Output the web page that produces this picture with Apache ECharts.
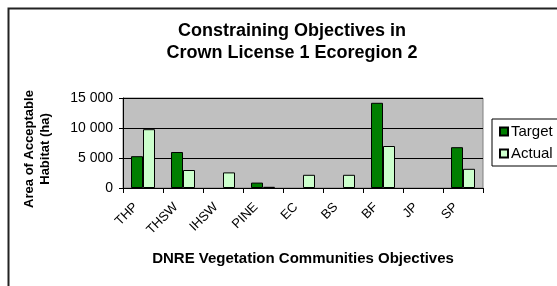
<!DOCTYPE html>
<html>
<head>
<meta charset="utf-8">
<script src="https://cdn.jsdelivr.net/npm/echarts@6/dist/echarts.min.js"></script>
<style>
  html, body { margin: 0; padding: 0; background: #fff; }
  #chartdiv { width: 557px; height: 286px; }
</style>
</head>
<body>
<div id="chartdiv"></div>
<script>
var categories = ['THP', 'THSW', 'IHSW', 'PINE', 'EC', 'BS', 'BF', 'JP', 'SP'];
var targetValues = [5300, 6000, 0, 900, 0, 0, 14200, 0, 6800];
var actualValues = [9800, 3000, 2600, 200, 2200, 2200, 7000, 0, 3200];
var seriesNames = ['Target', 'Actual'];

function fmt(v) {
  // thousands with a space, like the source
  return String(v).replace(/\B(?=(\d{3})+(?!\d))/g, ' ');
}
// zero values are not drawn at all in the source
function noZero(arr) {
  return arr.map(function (v) { return v === 0 ? '-' : v; });
}

var myChart = echarts.init(document.getElementById('chartdiv'));
var option = {
  animation: false,
  backgroundColor: '#fff',
  title: {
    text: 'Constraining Objectives in\nCrown License 1 Ecoregion 2',
    left: 287,
    textAlign: 'center',
    top: 15,
    textStyle: {
      fontFamily: 'Liberation Sans',
      fontSize: 18,
      fontWeight: 'bold',
      lineHeight: 22,
      color: '#000'
    }
  },
  legend: {
    data: seriesNames,
    orient: 'vertical',
    left: 492,
    top: 119,
    icon: 'rect',
    itemWidth: 8,
    itemHeight: 8,
    itemGap: 7,
    padding: [5, 20, 5, 7],
    borderColor: '#000',
    borderWidth: 1,
    textStyle: { fontFamily: 'Liberation Sans', fontSize: 15, color: '#000', padding: [0, 0, 0, -2] }
  },
  grid: {
    left: 123,
    top: 98,
    width: 360,
    height: 90,
    show: true,
    backgroundColor: '#c0c0c0',
    borderColor: '#808080',
    borderWidth: 1
  },
  xAxis: {
    type: 'category',
    data: categories,
    name: 'DNRE Vegetation Communities Objectives',
    nameLocation: 'middle',
    nameGap: 63,
    nameTextStyle: { fontFamily: 'Liberation Sans', fontSize: 15, fontWeight: 'bold', color: '#000' },
    axisLine: { lineStyle: { color: '#000' } },
    axisTick: { show: true, length: 5, lineStyle: { color: '#000' } },
    axisLabel: {
      rotate: 45,
      interval: 0,
      margin: 10,
      padding: [0, 10, 0, 0],
      fontFamily: 'Liberation Sans',
      fontSize: 13,
      color: '#000'
    }
  },
  yAxis: {
    type: 'value',
    min: 0,
    max: 15000,
    interval: 5000,
    name: 'Area of Acceptable\nHabitat (ha)',
    nameLocation: 'middle',
    nameGap: 70,
    nameTextStyle: {
      fontFamily: 'Liberation Sans', fontSize: 13, fontWeight: 'bold', color: '#000',
      lineHeight: 16, padding: [0, 12, 0, 0]
    },
    axisLine: { show: true, lineStyle: { color: '#000' } },
    axisTick: { show: true, length: 4, lineStyle: { color: '#000' } },
    splitLine: { show: true, lineStyle: { color: '#000', width: 1 } },
    axisLabel: {
      formatter: fmt,
      margin: 10,
      fontFamily: 'Liberation Sans',
      fontSize: 14,
      color: '#000'
    }
  },
  series: [
    {
      name: seriesNames[0],
      type: 'bar',
      data: noZero(targetValues),
      barGap: '0%',
      barCategoryGap: '40%',
      itemStyle: { color: '#007f00', borderColor: '#000', borderWidth: 1 }
    },
    {
      name: seriesNames[1],
      type: 'bar',
      data: noZero(actualValues),
      barGap: '0%',
      barCategoryGap: '40%',
      itemStyle: { color: '#ccffcc', borderColor: '#000', borderWidth: 1 }
    }
  ],
  graphic: [
    {
      // chart frame, only top and left edges visible in the source
      type: 'rect',
      left: 6,
      top: 6,
      shape: { width: 600, height: 300 },
      style: { fill: null, stroke: '#222', lineWidth: 2 },
      silent: true
    }
  ]
};
myChart.setOption(option);
</script>
</body>
</html>
